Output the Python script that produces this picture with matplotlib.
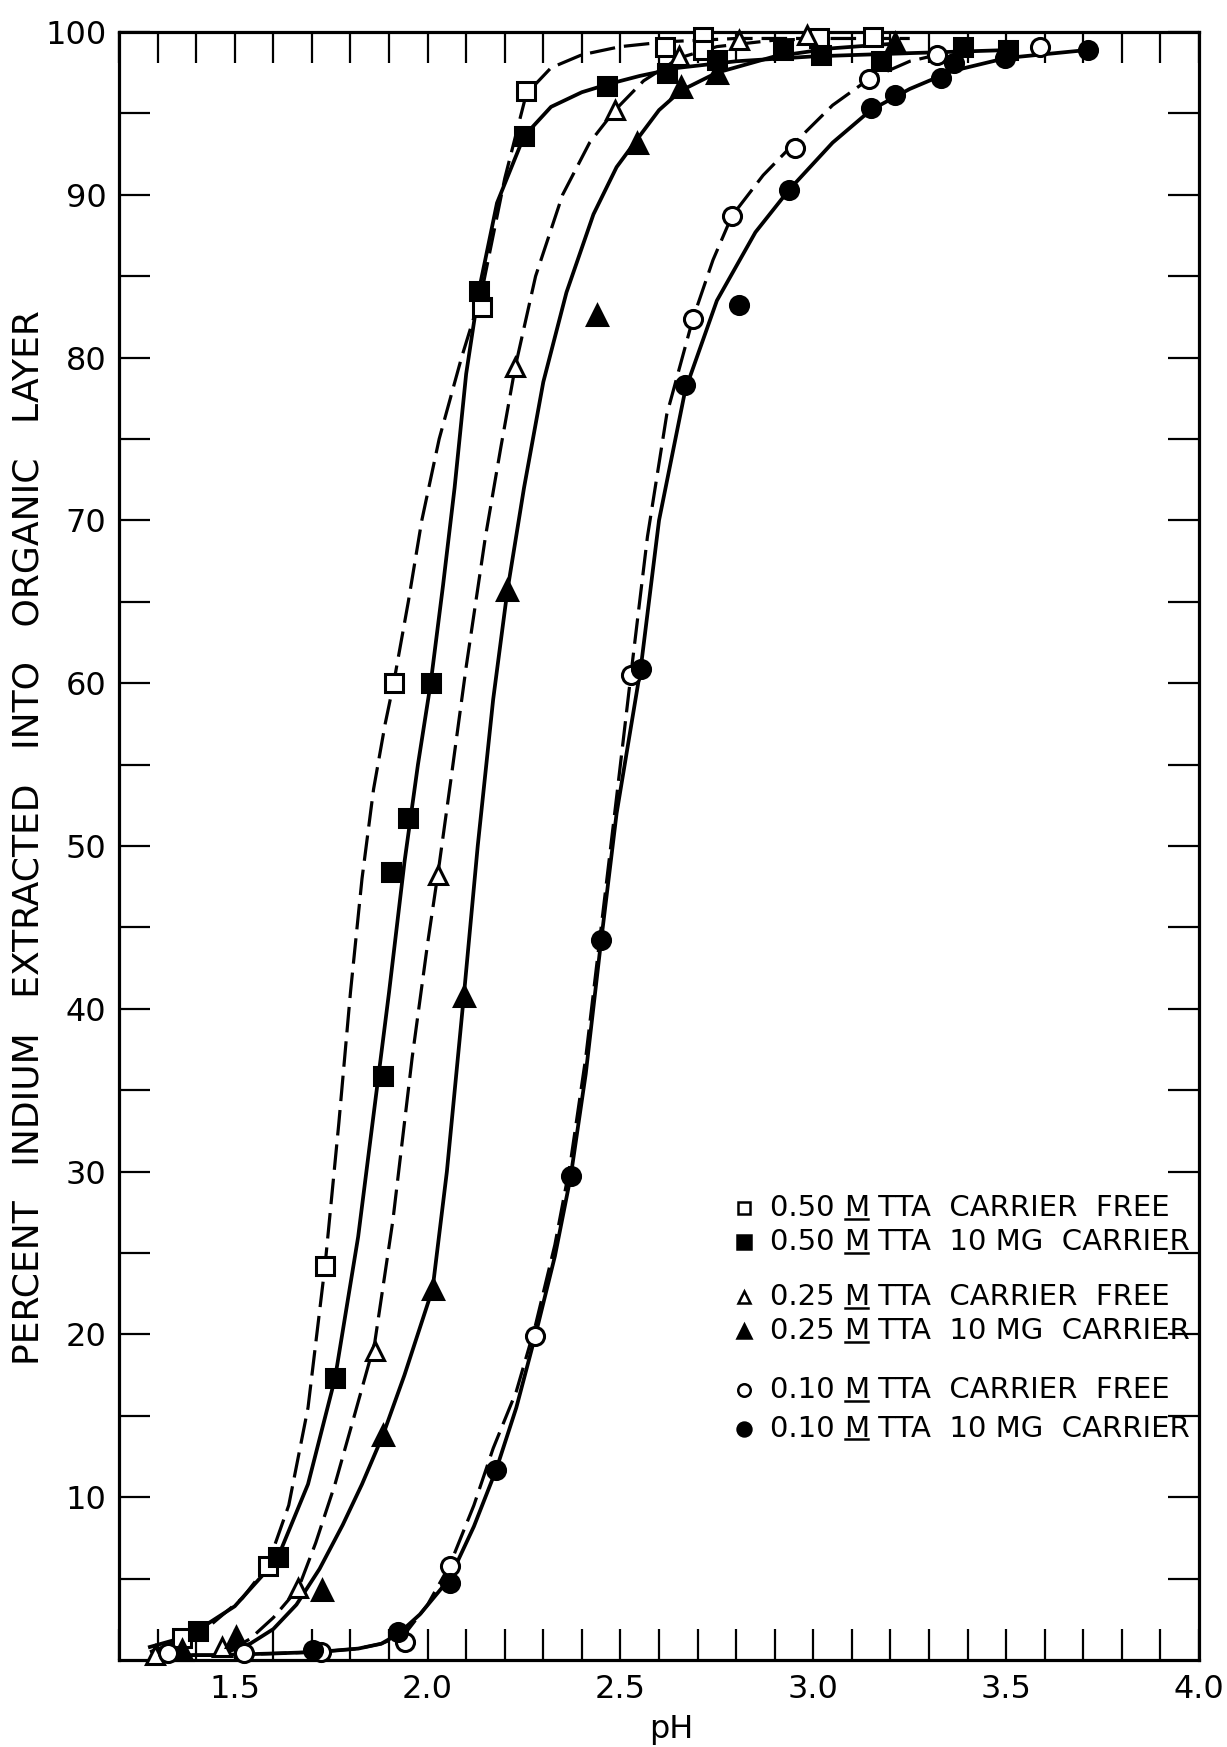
import matplotlib.pyplot as plt
from matplotlib.lines import Line2D
from matplotlib.ticker import MultipleLocator, FixedLocator

plt.rcParams['font.family'] = ['DejaVu Sans']

# measured points (pH, percent extracted)
sq_free_ph = [1.363, 1.585, 1.734, 1.912, 2.140, 2.256, 2.616, 2.714, 2.714, 3.014, 3.154]
sq_free_pct = [1.35, 5.8, 24.2, 60.0, 83.1, 96.4, 99.1, 99.7, 98.9, 99.6, 99.7]

sq_carrier_ph = [1.406, 1.613, 1.760, 1.884, 1.904, 1.950, 2.008, 2.132, 2.250, 2.466,
                 2.621, 2.750, 2.921, 3.019, 3.175, 3.387, 3.506]
sq_carrier_pct = [1.8, 6.3, 17.3, 35.9, 48.4, 51.7, 60.0, 84.1, 93.6, 96.7,
                  97.5, 98.3, 98.9, 98.6, 98.2, 99.1, 98.9]

tri_free_ph = [1.293, 1.467, 1.665, 1.863, 2.028, 2.227, 2.486, 2.652, 2.807, 2.983]
tri_free_pct = [0.3, 0.8, 4.4, 19.0, 48.2, 79.4, 95.2, 98.5, 99.5, 99.8]

tri_carrier_ph = [1.363, 1.503, 1.725, 1.884, 2.013, 2.094, 2.207, 2.440, 2.543, 2.657, 2.750, 3.211]
tri_carrier_pct = [0.6, 1.4, 4.3, 13.8, 22.8, 40.8, 65.7, 82.6, 93.2, 96.6, 97.5, 99.3]

circ_free_ph = [1.326, 1.525, 1.723, 1.941, 2.057, 2.279, 2.527, 2.688, 2.789, 2.952, 3.144, 3.320, 3.589]
circ_free_pct = [0.4, 0.4, 0.5, 1.1, 5.8, 19.9, 60.5, 82.4, 88.7, 92.9, 97.1, 98.6, 99.1]

circ_carrier_ph = [1.704, 1.924, 2.057, 2.178, 2.371, 2.449, 2.553, 2.668, 2.807, 2.937,
                   3.149, 3.211, 3.330, 3.366, 3.496, 3.713]
circ_carrier_pct = [0.6, 1.7, 4.7, 11.7, 29.7, 44.2, 60.9, 78.3, 83.2, 90.3,
                    95.3, 96.1, 97.2, 98.1, 98.4, 98.9]

# hand drawn curves
sq_free_curve_ph = [1.28, 1.36, 1.44, 1.52, 1.585, 1.64, 1.69, 1.734, 1.77, 1.80, 1.83, 1.86, 1.89,
                    1.912, 1.95, 1.985, 2.03, 2.088, 2.14, 2.20, 2.256, 2.32, 2.40, 2.50, 2.62,
                    2.80, 3.00, 3.25]
sq_free_curve_pct = [0.5, 1.2, 2.2, 3.8, 5.8, 9.5, 15.5, 24.2, 33, 41, 48, 53.5, 57.5,
                     60, 65, 70, 75, 80, 84, 91, 96.2, 97.8, 98.6, 99.1, 99.4,
                     99.6, 99.6, 99.6]

sq_carrier_curve_ph = [1.28, 1.34, 1.402, 1.50, 1.61, 1.69, 1.76, 1.82, 1.86, 1.90, 1.94, 1.975,
                       2.008, 2.04, 2.07, 2.10, 2.132, 2.18, 2.25, 2.32, 2.40, 2.469, 2.55, 2.65,
                       2.80, 3.00, 3.25, 3.52]
sq_carrier_curve_pct = [0.8, 1.2, 1.8, 3.3, 6.2, 10.8, 17.3, 26, 33.5, 41, 49, 55,
                        60, 66, 72, 79, 84, 89.5, 93.6, 95.4, 96.3, 96.8, 97.3, 97.8,
                        98.2, 98.5, 98.7, 98.9]

tri_free_curve_ph = [1.48, 1.54, 1.60, 1.665, 1.71, 1.76, 1.81, 1.863, 1.91, 1.96, 2.00, 2.028,
                     2.06, 2.10, 2.15, 2.19, 2.227, 2.28, 2.35, 2.42, 2.486, 2.56, 2.652, 2.75,
                     2.90, 3.05]
tri_free_curve_pct = [0.5, 1.3, 2.6, 4.4, 7.2, 10.8, 15, 19.5, 27, 37, 44, 48.5,
                      54, 61, 69, 74.5, 79.4, 85, 90, 93.2, 95.2, 97.0, 98.4, 99.1,
                      99.5, 99.6]

tri_carrier_curve_ph = [1.48, 1.54, 1.60, 1.66, 1.72, 1.78, 1.83, 1.884, 1.94, 2.013, 2.05, 2.094,
                        2.13, 2.17, 2.207, 2.25, 2.30, 2.36, 2.43, 2.49, 2.543, 2.60, 2.657, 2.75,
                        2.90, 3.05, 3.22]
tri_carrier_curve_pct = [0.5, 1.0, 1.9, 3.4, 5.6, 8.3, 10.8, 13.8, 17.5, 22.8, 30, 40.8,
                         50, 59, 65.7, 72, 78.5, 84, 88.8, 91.7, 93.4, 95.2, 96.4, 97.5,
                         98.5, 99.0, 99.3]

circ_free_curve_ph = [1.30, 1.45, 1.60, 1.72, 1.82, 1.88, 1.941, 2.00, 2.057, 2.12, 2.17, 2.23,
                      2.279, 2.33, 2.37, 2.41, 2.45, 2.49, 2.527, 2.57, 2.62, 2.688, 2.74, 2.789,
                      2.87, 2.952, 3.05, 3.144, 3.25, 3.34]
circ_free_curve_pct = [0.3, 0.3, 0.4, 0.5, 0.7, 1.0, 1.6, 3.4, 5.8, 9.5, 13, 16.5,
                       20.5, 25.5, 30.5, 37, 45, 53, 60.5, 69, 76.5, 82.4, 86, 88.7,
                       91.2, 93.2, 95.5, 97.1, 98.2, 98.7]

circ_carrier_curve_ph = [1.30, 1.45, 1.60, 1.72, 1.82, 1.88, 1.924, 1.98, 2.057, 2.12, 2.178, 2.23,
                         2.279, 2.33, 2.371, 2.41, 2.449, 2.49, 2.553, 2.60, 2.668, 2.75, 2.85,
                         2.937, 3.05, 3.149, 3.25, 3.36, 3.50, 3.713]
circ_carrier_curve_pct = [0.3, 0.3, 0.4, 0.5, 0.7, 1.0, 1.6, 2.8, 5.0, 8.2, 11.7, 15.5,
                          19.9, 24.8, 29.7, 36, 44, 52, 61, 70, 78, 83.5, 87.7,
                          90.3, 93.2, 95.2, 96.5, 97.6, 98.4, 98.9]

conc_labels = ["0.50", "0.50", "0.25", "0.25", "0.10", "0.10"]
carrier_labels = ["CARRIER  FREE", "10 MG  CARRIER", "CARRIER  FREE",
                  "10 MG  CARRIER", "CARRIER  FREE", "10 MG  CARRIER"]

fig = plt.figure(figsize=(12.27, 17.47), dpi=100)
ax = fig.add_axes([0.0970, 0.0498, 0.8802, 0.9319])

dash = (8, 2.8)
ax.plot(sq_free_curve_ph, sq_free_curve_pct, color='black', lw=2.3, dashes=dash)
ax.plot(sq_carrier_curve_ph, sq_carrier_curve_pct, color='black', lw=2.7)
ax.plot(tri_free_curve_ph, tri_free_curve_pct, color='black', lw=2.3, dashes=dash)
ax.plot(tri_carrier_curve_ph, tri_carrier_curve_pct, color='black', lw=2.7)
ax.plot(circ_free_curve_ph, circ_free_curve_pct, color='black', lw=2.3, dashes=dash)
ax.plot(circ_carrier_curve_ph, circ_carrier_curve_pct, color='black', lw=2.7)

series = [
    (sq_free_ph, sq_free_pct, 's', False, 13),
    (sq_carrier_ph, sq_carrier_pct, 's', True, 13),
    (tri_free_ph, tri_free_pct, '^', False, 13),
    (tri_carrier_ph, tri_carrier_pct, '^', True, 14),
    (circ_free_ph, circ_free_pct, 'o', False, 13),
    (circ_carrier_ph, circ_carrier_pct, 'o', True, 13),
]
for x, y, m, filled, ms in series:
    ax.plot(x, y, ls='none', marker=m, ms=ms, mew=2.2, mec='black',
            mfc='black' if filled else 'white', clip_on=False, zorder=3)

ax.set_xlim(1.2, 4.0)
ax.set_ylim(0, 100)
ax.xaxis.set_major_locator(MultipleLocator(0.5))
ax.xaxis.set_minor_locator(MultipleLocator(0.1))
ax.xaxis.set_major_formatter(plt.FormatStrFormatter('%.1f'))
ax.yaxis.set_major_locator(FixedLocator(range(10, 101, 10)))
ax.yaxis.set_minor_locator(FixedLocator(range(5, 100, 10)))
ax.tick_params(which='both', direction='in', top=True, right=True, length=22, width=1.6)
ax.tick_params(axis='x', labelsize=23, pad=10)
ax.tick_params(axis='y', labelsize=23, pad=9)
for s in ax.spines.values():
    s.set_linewidth(2.3)

ax.set_ylabel("PERCENT   INDIUM   EXTRACTED   INTO   ORGANIC   LAYER", fontsize=26)
ax.yaxis.set_label_coords(-0.068, 0.505)
ax.set_xlabel("pH", fontsize=23)
ax.xaxis.set_label_coords(0.511, -0.033)

# hand made legend with the underlined M
legend_y = [0.2776, 0.2568, 0.2230, 0.2018, 0.1657, 0.1420]
legend_marks = [('s', False, 9), ('s', True, 10), ('^', False, 9),
                ('^', True, 10), ('o', False, 9), ('o', True, 10)]
m_texts = []
for y, (m, filled, ms), conc, rest in zip(legend_y, legend_marks, conc_labels, carrier_labels):
    ax.plot([0.579], [y], ls='none', marker=m, ms=ms, mew=1.8, mec='black',
            mfc='black' if filled else 'white', transform=ax.transAxes, clip_on=False)
    t1 = ax.text(0.603, y, conc + " ", transform=ax.transAxes, va='center', fontsize=21)
    t2 = ax.annotate("M", xy=(1, 0), xycoords=t1, va='bottom', fontsize=21)
    ax.annotate(" TTA  " + rest, xy=(1, 0), xycoords=t2, va='bottom', fontsize=21)
    m_texts.append(t2)

fig.canvas.draw()
inv = fig.transFigure.inverted()
for t in m_texts:
    bb = t.get_window_extent()
    (x0, y0), (x1, _) = inv.transform([(bb.x0 + 1, bb.y0 + 0.12 * bb.height), (bb.x1 - 1, bb.y0)])
    fig.add_artist(Line2D([x0, x1], [y0, y0], color='black', lw=1.8))

plt.savefig("out.png", dpi=100)
